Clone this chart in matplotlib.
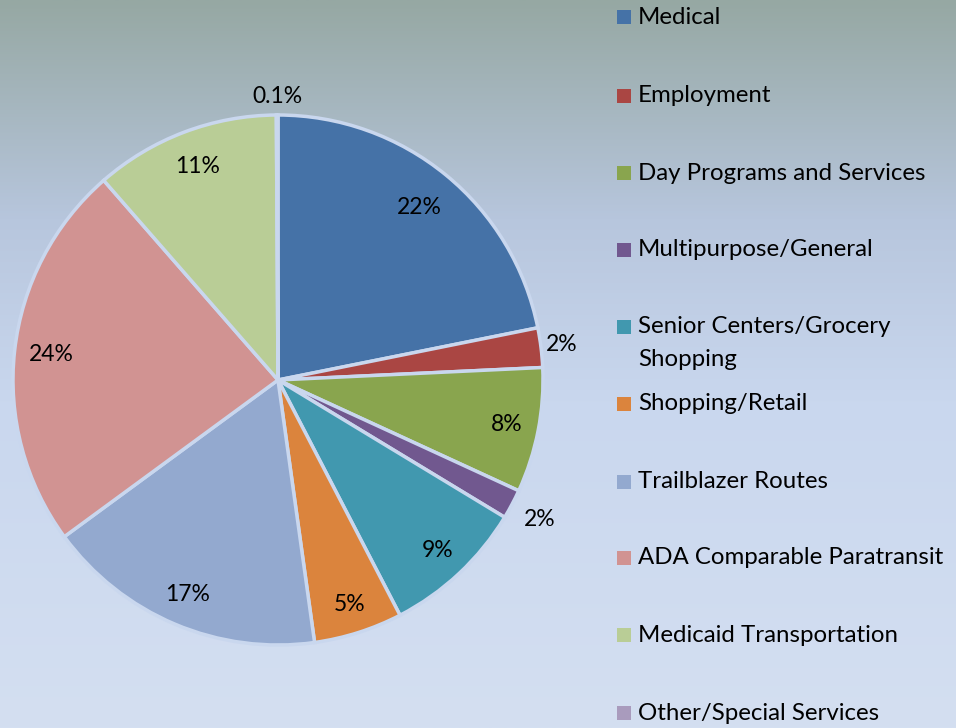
import matplotlib
matplotlib.use('Agg')
import matplotlib.pyplot as plt
from matplotlib.patches import Rectangle
from matplotlib.colors import LinearSegmentedColormap
import numpy as np

plt.rcParams['font.family'] = ['Lato', 'DejaVu Sans']

# data
categories = ['Medical', 'Employment', 'Day Programs and Services', 'Multipurpose/General',
              'Senior Centers/Grocery\nShopping', 'Shopping/Retail', 'Trailblazer Routes',
              'ADA Comparable Paratransit', 'Medicaid Transportation', 'Other/Special Services']
shares = [21.8, 2.4, 7.6, 1.8, 8.7, 5.4, 17.1, 23.6, 11.3, 0.1]
colors = ['#4572A7', '#AA4643', '#89A54E', '#71588F', '#4198AF',
          '#DB843D', '#93A9CF', '#D19392', '#B9CD96', '#A99BBD']

W, H = 956, 728
fig = plt.figure(figsize=(W / 100, H / 100), dpi=100)

# gradient background
bg = fig.add_axes([0, 0, 1, 1])
bg.axis('off')
grad = LinearSegmentedColormap.from_list('bg', [(0, '#D4DFF1'), (0.45, '#C9D7EE'),
                                                (0.7, '#B7C6DD'), (1, '#96A8A3')])
bg.imshow(np.linspace(0, 1, 256).reshape(-1, 1), aspect='auto', cmap=grad,
          origin='lower', extent=[0, 1, 0, 1])
bg.set_xlim(0, 1)
bg.set_ylim(0, 1)

# pie
cx, cy, r = 278, H - 380, 265
ax = fig.add_axes([(cx - r) / W, (cy - r) / H, 2 * r / W, 2 * r / H])
wedges, _ = ax.pie(shares, colors=colors, startangle=90, counterclock=False, radius=1,
                   wedgeprops=dict(edgecolor='#C9D7EE', linewidth=2.5))
ax.set_xlim(-1, 1)
ax.set_ylim(-1, 1)
ax.set_aspect('equal')
ax.axis('off')

# percentage labels
label_dist = [0.84, 1.08, 0.88, 1.12, 0.88, 0.89, 0.88, 0.86, 0.86, 1.07]
for w, v, d in zip(wedges, shares, label_dist):
    ang = np.deg2rad((w.theta1 + w.theta2) / 2)
    txt = '%.1f%%' % v if v < 1 else '%.0f%%' % v
    ax.text(d * np.cos(ang), d * np.sin(ang), txt, ha='center', va='center',
            fontsize=16.5, color='black')

# legend drawn by hand
leg_y = [17, 96, 173, 250, 327, 404, 482, 558, 635, 713]
for lab, col, y in zip(categories, colors, leg_y):
    bg.add_patch(Rectangle((617 / W, 1 - (y + 7) / H), 14 / W, 14 / H,
                           facecolor=col, edgecolor='none', transform=bg.transAxes))
    for i, line in enumerate(lab.split('\n')):
        bg.text(638 / W, 1 - (y + i * 32) / H, line, ha='left', va='center',
                fontsize=17.3, transform=bg.transAxes, color='black')

plt.savefig('out.png', dpi=100)
plt.close()
